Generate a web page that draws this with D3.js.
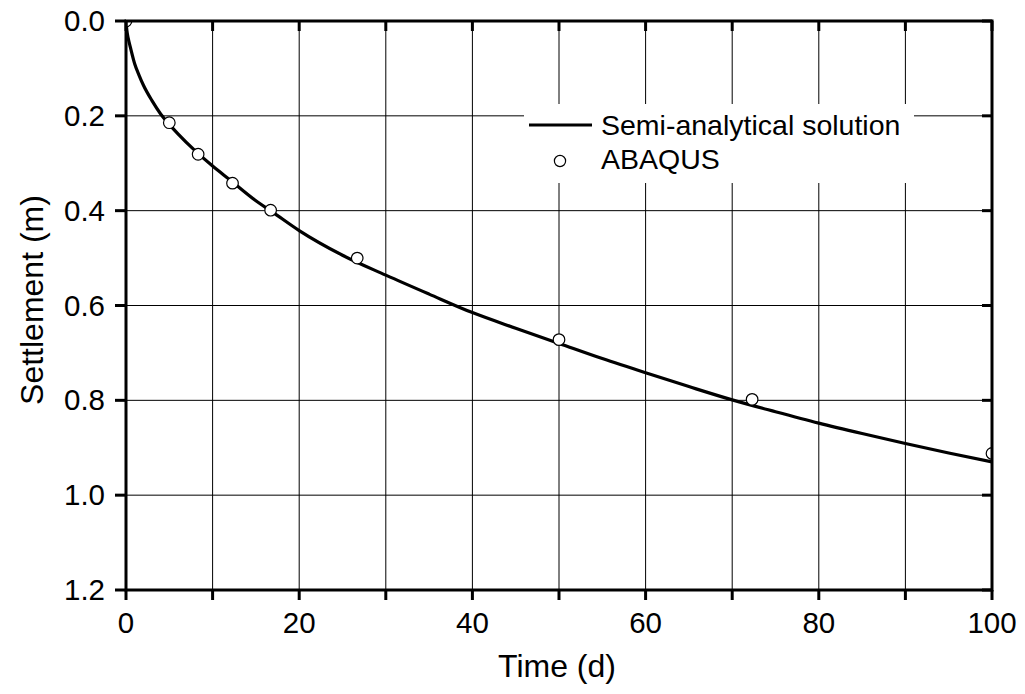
<!DOCTYPE html>
<html>
<head>
<meta charset="utf-8">
<script src="https://cdn.jsdelivr.net/npm/d3@7"></script>
<style>
  html, body { margin: 0; padding: 0; background: #fff; }
  svg { display: block; }
  text { font-family: "Liberation Sans", Arial, Helvetica, sans-serif; fill: #000; }
</style>
</head>
<body>
<svg id="chart" width="1025" height="694"></svg>
<script>
// ---- data ----
const curveTime = [0, 0.1, 0.25, 0.5, 1, 1.5, 2, 3, 4, 5, 6, 8, 10, 12, 15, 17, 20, 25, 30, 35, 40, 45, 50, 55, 60, 65, 70, 75, 80, 85, 90, 95, 100];
const curveSettle = [0, 0.020, 0.036, 0.055, 0.090, 0.114, 0.135, 0.168, 0.196, 0.218, 0.238, 0.274, 0.306, 0.335, 0.379, 0.404, 0.442, 0.494, 0.536, 0.576, 0.615, 0.648, 0.680, 0.712, 0.742, 0.771, 0.799, 0.824, 0.848, 0.870, 0.891, 0.911, 0.930];
const abaqusTime = [0, 5, 8.33, 12.3, 16.7, 26.7, 50, 72.3, 100];
const abaqusSettle = [0, 0.2145, 0.281, 0.342, 0.399, 0.500, 0.672, 0.798, 0.912];
const xTicks = [0, 20, 40, 60, 80, 100];
const xGrid = [10, 20, 30, 40, 50, 60, 70, 80, 90];
const yTicks = [0.0, 0.2, 0.4, 0.6, 0.8, 1.0, 1.2];
const seriesNames = ["Semi-analytical solution", "ABAQUS"];
const xTitle = "Time (d)";
const yTitle = "Settlement (m)";

// ---- layout ----
const L = 126, R = 992, T = 21, B = 590;
const svg = d3.select("#chart");
const x = d3.scaleLinear().domain([0, 100]).range([L, R]);
const y = d3.scaleLinear().domain([0, 1.2]).range([T, B]);

// grid
const grid = svg.append("g").attr("stroke", "#000").attr("stroke-width", 1);
grid.selectAll("line.v").data(xGrid).join("line")
  .attr("x1", d => x(d)).attr("x2", d => x(d)).attr("y1", T).attr("y2", B);
grid.selectAll("line.h").data(yTicks.slice(1, -1)).join("line")
  .attr("x1", L).attr("x2", R).attr("y1", d => y(d)).attr("y2", d => y(d));

// legend background
svg.append("rect").attr("x", 524).attr("y", 104).attr("width", 390).attr("height", 79).attr("fill", "#fff");

// clip
svg.append("clipPath").attr("id", "plotclip").append("rect")
  .attr("x", L).attr("y", T).attr("width", R - L).attr("height", B - T);

// curve
const pts = curveTime.map((t, i) => [t, curveSettle[i]]);
const line = d3.line().x(d => x(d[0])).y(d => y(d[1])).curve(d3.curveMonotoneX);
svg.append("path").datum(pts).attr("d", line)
  .attr("fill", "none").attr("stroke", "#000").attr("stroke-width", 3.2)
  .attr("clip-path", "url(#plotclip)");

// circles
const cpts = abaqusTime.map((t, i) => [t, abaqusSettle[i]]);
svg.append("g").attr("clip-path", "url(#plotclip)")
  .selectAll("circle").data(cpts).join("circle")
  .attr("cx", d => x(d[0])).attr("cy", d => y(d[1])).attr("r", 5.8)
  .attr("fill", "#fff").attr("stroke", "#000").attr("stroke-width", 1.2);

// axes frame and ticks
const ax = svg.append("g").attr("stroke", "#000").attr("stroke-width", 3).attr("fill", "none");
ax.append("rect").attr("x", L).attr("y", T).attr("width", R - L).attr("height", B - T);
const xTickAll = [0, 10, 20, 30, 40, 50, 60, 70, 80, 90, 100];
ax.selectAll("line.bt").data(xTickAll).join("line").attr("class", "bt")
  .attr("x1", d => x(d)).attr("x2", d => x(d)).attr("y1", B).attr("y2", B + 10);
ax.selectAll("line.tt").data(xTickAll).join("line").attr("class", "tt")
  .attr("x1", d => x(d)).attr("x2", d => x(d)).attr("y1", T).attr("y2", T + 10);
ax.selectAll("line.lt").data(yTicks).join("line").attr("class", "lt")
  .attr("x1", L - 11).attr("x2", L).attr("y1", d => y(d)).attr("y2", d => y(d));
ax.selectAll("line.rt").data(yTicks).join("line").attr("class", "rt")
  .attr("x1", R - 10).attr("x2", R).attr("y1", d => y(d)).attr("y2", d => y(d));

// tick labels
svg.append("g").selectAll("text").data(xTicks).join("text")
  .attr("x", d => x(d)).attr("y", B + 43).attr("text-anchor", "middle")
  .attr("font-size", 29.5).text(d => d3.format("d")(d));
svg.append("g").selectAll("text").data(yTicks).join("text")
  .attr("x", 105).attr("y", d => y(d) + 10).attr("text-anchor", "end")
  .attr("font-size", 29.5).text(d => d3.format(".1f")(d));

// axis titles
svg.append("text").attr("x", 557).attr("y", 677).attr("text-anchor", "middle")
  .attr("font-size", 32).text(xTitle);
svg.append("text").attr("transform", "translate(43,300) rotate(-90)")
  .attr("text-anchor", "middle").attr("font-size", 32).text(yTitle);

// legend
svg.append("line").attr("x1", 529).attr("x2", 592).attr("y1", 125).attr("y2", 125)
  .attr("stroke", "#000").attr("stroke-width", 3.2);
svg.append("circle").attr("cx", 560).attr("cy", 161).attr("r", 5.6)
  .attr("fill", "#fff").attr("stroke", "#000").attr("stroke-width", 1.2);
svg.append("text").attr("x", 601).attr("y", 135).attr("font-size", 28.5).text(seriesNames[0]);
svg.append("text").attr("x", 601).attr("y", 168.5).attr("font-size", 28.5).text(seriesNames[1]);
</script>
</body>
</html>
